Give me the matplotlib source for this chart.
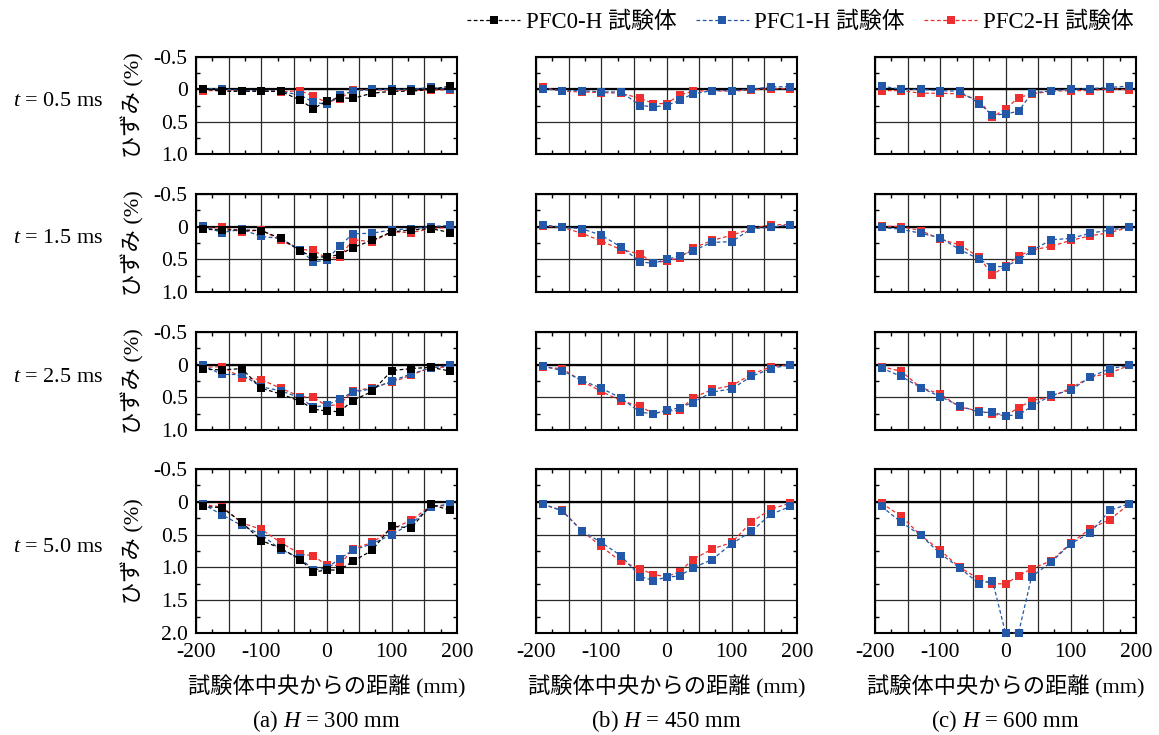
import matplotlib
matplotlib.use('Agg')
import matplotlib.pyplot as plt
from matplotlib.ticker import MultipleLocator, FuncFormatter

plt.rcParams['font.family'] = ['Liberation Serif', 'Noto Sans CJK JP']
plt.rcParams['mathtext.fontset'] = 'custom'
plt.rcParams['mathtext.rm'] = 'Liberation Serif'
plt.rcParams['mathtext.it'] = 'Liberation Serif:italic'

# measuring positions (mm from centre of specimen)
pos = [-190, -160, -130, -100, -70, -40, -20, 0, 20, 40, 70, 100, 130, 160, 190]

times = ['0.5', '1.5', '2.5', '5.0']
heights = ['(a)', '(b)', '(c)']
h_vals = ['300', '450', '600']
series_names = ['PFC0-H 試験体', 'PFC1-H 試験体', 'PFC2-H 試験体']

# strain (%) for each time step, H = 300 mm
pfc0_a = [
    [-0.01, 0.03, 0.03, 0.03, 0.03, 0.17, 0.30, 0.18, 0.13, 0.14, 0.06, 0.03, 0.03, 0.00, -0.05],
    [0.04, 0.05, 0.05, 0.06, 0.18, 0.37, 0.47, 0.46, 0.43, 0.32, 0.21, 0.08, 0.05, 0.03, 0.09],
    [0.07, 0.08, 0.06, 0.36, 0.45, 0.56, 0.68, 0.71, 0.72, 0.55, 0.41, 0.09, 0.06, 0.04, 0.10],
    [0.07, 0.09, 0.31, 0.59, 0.71, 0.88, 1.07, 1.04, 1.04, 0.91, 0.74, 0.37, 0.40, 0.04, 0.13],
]
pfc1_a = [
    [-0.01, -0.01, 0.02, 0.02, 0.03, 0.09, 0.20, 0.23, 0.09, 0.03, 0.00, 0.00, 0.00, -0.03, 0.00],
    [-0.01, 0.09, 0.04, 0.15, 0.18, 0.36, 0.54, 0.51, 0.30, 0.11, 0.10, 0.05, 0.03, 0.00, -0.02],
    [0.01, 0.15, 0.15, 0.34, 0.40, 0.51, 0.65, 0.62, 0.53, 0.42, 0.37, 0.25, 0.14, 0.05, 0.01],
    [0.03, 0.20, 0.36, 0.50, 0.73, 0.86, 1.04, 1.01, 0.87, 0.74, 0.64, 0.50, 0.33, 0.08, 0.03],
]
pfc2_a = [
    [0.02, 0.02, 0.02, 0.02, 0.04, 0.02, 0.11, 0.20, 0.15, 0.01, 0.01, 0.01, 0.02, 0.01, 0.01],
    [0.03, 0.01, 0.08, 0.05, 0.21, 0.35, 0.36, 0.48, 0.47, 0.20, 0.23, 0.08, 0.09, 0.03, 0.01],
    [0.04, 0.03, 0.20, 0.23, 0.36, 0.49, 0.50, 0.63, 0.61, 0.41, 0.35, 0.27, 0.16, 0.04, 0.04],
    [0.04, 0.08, 0.32, 0.42, 0.62, 0.80, 0.82, 0.97, 0.97, 0.72, 0.62, 0.42, 0.28, 0.06, 0.06],
]

# H = 450 mm
pfc1_b = [
    [-0.01, 0.02, 0.02, 0.04, 0.04, 0.25, 0.27, 0.25, 0.17, 0.07, 0.02, 0.02, 0.00, -0.04, -0.04],
    [-0.03, 0.01, 0.03, 0.13, 0.31, 0.54, 0.56, 0.50, 0.45, 0.37, 0.24, 0.23, 0.03, 0.01, -0.03],
    [0.02, 0.09, 0.24, 0.36, 0.51, 0.73, 0.75, 0.70, 0.66, 0.58, 0.42, 0.37, 0.18, 0.06, 0.00],
    [0.03, 0.14, 0.44, 0.62, 0.82, 1.14, 1.20, 1.15, 1.13, 1.01, 0.88, 0.64, 0.45, 0.19, 0.07],
]
pfc2_b = [
    [-0.03, 0.03, 0.04, 0.05, 0.06, 0.14, 0.22, 0.22, 0.09, 0.03, 0.02, 0.03, 0.01, -0.01, -0.01],
    [-0.01, 0.01, 0.10, 0.22, 0.35, 0.42, 0.56, 0.52, 0.48, 0.33, 0.21, 0.13, 0.03, -0.03, -0.03],
    [0.04, 0.06, 0.25, 0.41, 0.55, 0.64, 0.75, 0.71, 0.70, 0.51, 0.38, 0.32, 0.15, 0.03, 0.00],
    [0.04, 0.13, 0.44, 0.68, 0.91, 1.02, 1.11, 1.14, 1.07, 0.88, 0.72, 0.62, 0.31, 0.11, 0.02],
]

# H = 600 mm
pfc1_c = [
    [-0.05, 0.00, 0.00, 0.02, 0.03, 0.22, 0.40, 0.38, 0.34, 0.06, 0.02, 0.00, -0.01, -0.03, -0.05],
    [0.01, 0.04, 0.10, 0.17, 0.35, 0.50, 0.61, 0.61, 0.51, 0.37, 0.20, 0.18, 0.10, 0.05, 0.01],
    [0.05, 0.18, 0.35, 0.49, 0.63, 0.73, 0.73, 0.78, 0.77, 0.64, 0.47, 0.39, 0.19, 0.06, 0.01],
    [0.07, 0.31, 0.51, 0.79, 1.01, 1.25, 1.20, 2.00, 2.00, 1.14, 0.92, 0.64, 0.47, 0.13, 0.03],
]
pfc2_c = [
    [0.02, 0.02, 0.06, 0.06, 0.07, 0.17, 0.43, 0.30, 0.13, 0.07, 0.03, 0.02, 0.02, -0.01, 0.01],
    [-0.01, 0.00, 0.06, 0.19, 0.28, 0.47, 0.74, 0.60, 0.45, 0.36, 0.30, 0.21, 0.14, 0.09, 0.01],
    [0.03, 0.10, 0.35, 0.45, 0.65, 0.71, 0.76, 0.78, 0.66, 0.55, 0.49, 0.36, 0.19, 0.13, 0.01],
    [0.02, 0.22, 0.51, 0.74, 1.00, 1.18, 1.25, 1.25, 1.13, 1.02, 0.90, 0.63, 0.41, 0.27, 0.03],
]

RED, BLUE, BLACK = '#ee2f2f', '#2358a8', '#000000'
# drawn red first, then blue, then black on top
col_data = [
    [(pfc2_a, RED), (pfc1_a, BLUE), (pfc0_a, BLACK)],
    [(pfc2_b, RED), (pfc1_b, BLUE)],
    [(pfc2_c, RED), (pfc1_c, BLUE)],
]

W, H = 1159, 735
fig = plt.figure(figsize=(W / 100, H / 100), dpi=100)

col_left = [196, 536, 875]
col_w = 261
row_top = [57, 194, 332, 469]
row_bot = [154, 292, 430, 633]

fs = 16
tick_fs = 15.5


def xfmt(v, p):
    if abs(v % 100) < 1e-6:
        return '%d' % v
    return ''


legend_handles = []
for r in range(4):
    for c in range(3):
        ax = fig.add_axes([col_left[c] / W, 1 - row_bot[r] / H, col_w / W,
                           (row_bot[r] - row_top[r]) / H])
        lines = []
        for data, color in col_data[c]:
            ln, = ax.plot(pos, data[r], linestyle=(0, (3, 2)), linewidth=0.9, color=color,
                          marker='s', markersize=6.2, markeredgewidth=0, clip_on=False, zorder=3)
            lines.append(ln)
        if c == 0 and r == 0:
            legend_handles = lines[::-1]
        ymax = 2.0 if r == 3 else 1.0
        ax.set_xlim(-200, 200)
        ax.set_ylim(ymax, -0.5)
        ax.xaxis.set_major_locator(MultipleLocator(50))
        ax.xaxis.set_minor_locator(MultipleLocator(25))
        ax.yaxis.set_major_locator(MultipleLocator(0.5))
        ax.yaxis.set_minor_locator(MultipleLocator(0.25))
        ax.xaxis.set_major_formatter(FuncFormatter(xfmt))
        ax.yaxis.set_major_formatter(FuncFormatter(lambda v, p: '0' if abs(v) < 1e-9 else '%.1f' % v))
        ax.grid(True, which='major', color='#2a2a2a', linewidth=0.9)
        ax.axhline(0, color='black', linewidth=1.6, zorder=2)
        ax.tick_params(which='both', direction='in', top=True, right=True,
                       labelsize=tick_fs, width=1.0)
        ax.tick_params(which='major', length=0)
        ax.tick_params(which='minor', length=3)
        ax.tick_params(axis='y', pad=6)
        ax.tick_params(axis='x', pad=7)
        for s in ax.spines.values():
            s.set_linewidth(1.5)
        if c != 0:
            ax.tick_params(labelleft=False)
        if r != 3:
            ax.tick_params(labelbottom=False)

    yc = 1 - (row_top[r] + row_bot[r]) / 2 / H
    fig.text(103 / W, yc + 4 / H, r'$t$ = %s ms' % times[r], ha='right', va='center', fontsize=fs)
    fig.text(133 / W, yc, 'ひずみ (%)', ha='center', va='center', rotation=90, fontsize=fs)

for c in range(3):
    xc = (col_left[c] + col_w / 2) / W
    fig.text(xc, 1 - 687 / H, '試験体中央からの距離 (mm)', ha='center', va='center', fontsize=fs)
    fig.text(xc, 1 - 721 / H, r'%s $H$ = %s mm' % (heights[c], h_vals[c]),
             ha='center', va='center', fontsize=fs + 0.5)

fig.legend(legend_handles, series_names, loc='upper right', bbox_to_anchor=(1145 / W, 1.0),
           ncol=3, frameon=False, fontsize=fs + 0.5, handlelength=2.3,
           handletextpad=0.25, columnspacing=0.85, borderaxespad=0.1)

fig.savefig('out.png', dpi=100)
